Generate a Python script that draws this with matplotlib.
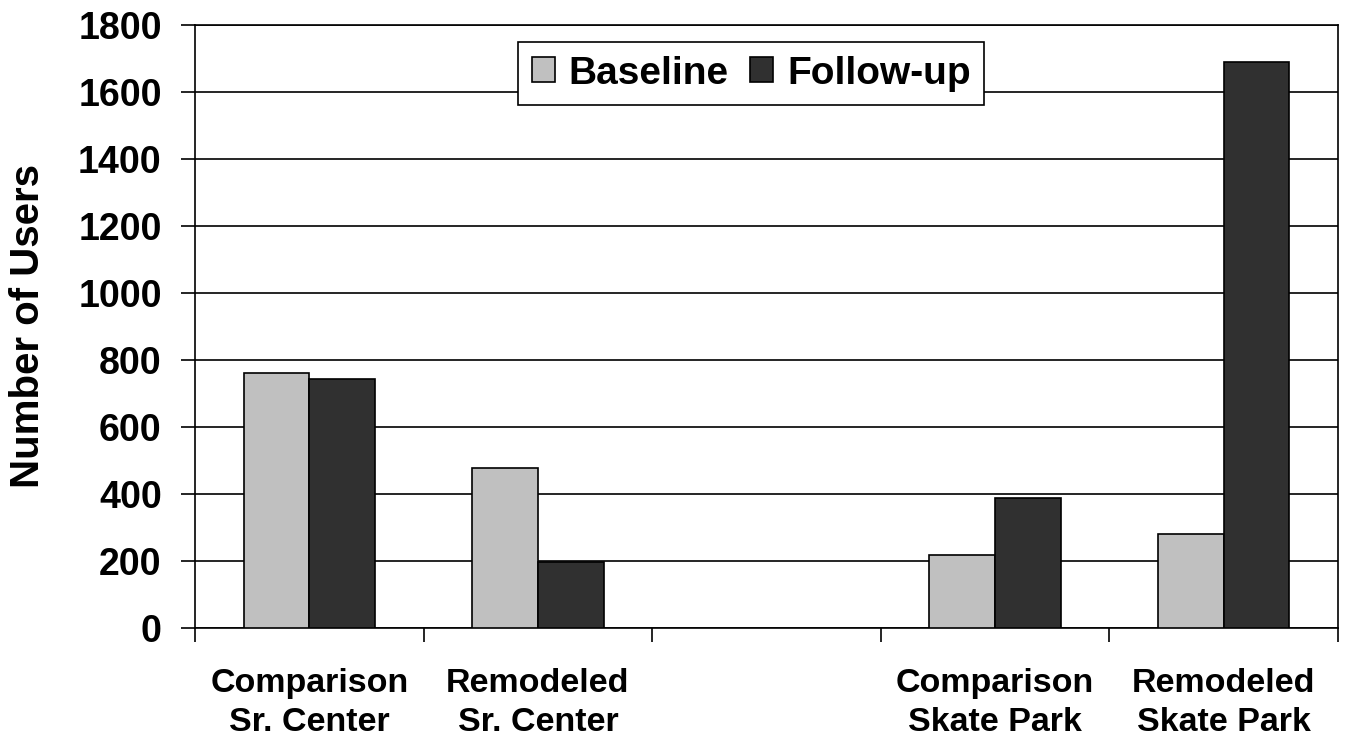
import numpy as np
import matplotlib
matplotlib.use('Agg')
import matplotlib.pyplot as plt

# data (middle slot is empty in the original)
categories = ['Comparison\nSr. Center', 'Remodeled\nSr. Center', '',
              'Comparison\nSkate Park', 'Remodeled\nSkate Park']
baseline = [761, 478, np.nan, 218, 281]
follow_up = [743, 197, np.nan, 388, 1690]
series_names = ['Baseline', 'Follow-up']
yticks = [0, 200, 400, 600, 800, 1000, 1200, 1400, 1600, 1800]

plt.rcParams['font.family'] = ['Liberation Sans', 'DejaVu Sans']
plt.rcParams['font.weight'] = 'bold'

fig = plt.figure(figsize=(13.47, 7.45), dpi=100)
ax = fig.add_axes([0.1448, 0.157, 0.8485, 0.8094])

x = np.arange(len(categories))
w = 0.287
ax.bar(x - w / 2, baseline, w, color='#c0c0c0', edgecolor='black',
       linewidth=1.2, label=series_names[0], zorder=3)
ax.bar(x + w / 2, follow_up, w, color='#303030', edgecolor='black',
       linewidth=1.2, label=series_names[1], zorder=3)

ax.set_xlim(-0.5, len(categories) - 0.5)
ax.set_ylim(0, 1800)
ax.set_yticks(yticks)
ax.set_yticklabels([str(v) for v in yticks], fontsize=27, fontweight='bold')
ax.yaxis.grid(True, color='black', linewidth=1.2, zorder=0)
ax.set_axisbelow(True)

# slot boundaries get the ticks, category names sit on minor ticks
ax.set_xticks(np.arange(len(categories) + 1) - 0.5)
ax.set_xticklabels([])
ax.set_xticks(x, minor=True)
ax.set_xticklabels(categories, minor=True, fontsize=24.5, fontweight='bold',
                   linespacing=1.32)
ax.tick_params(axis='x', which='minor', length=0, pad=29)
ax.tick_params(axis='x', which='major', direction='out', length=10, width=1.2)
ax.tick_params(axis='y', direction='out', length=10, width=1.2, pad=14)

for s in ax.spines.values():
    s.set_linewidth(1.2)
    s.set_color('black')

fig.text(0.021, 0.5624, 'Number of Users', rotation=90, ha='center',
         va='center', fontsize=29, fontweight='bold')

leg = ax.legend(loc='upper center', bbox_to_anchor=(0.4865, 0.972), ncol=2,
                fontsize=28, frameon=True, fancybox=False, framealpha=1,
                edgecolor='black', handlelength=0.6, handleheight=0.6,
                handletextpad=0.35, columnspacing=0.55, borderpad=0.35,
                borderaxespad=0)
leg.get_frame().set_linewidth(1.2)
leg.set_zorder(5)

fig.savefig('out.png', dpi=100)
